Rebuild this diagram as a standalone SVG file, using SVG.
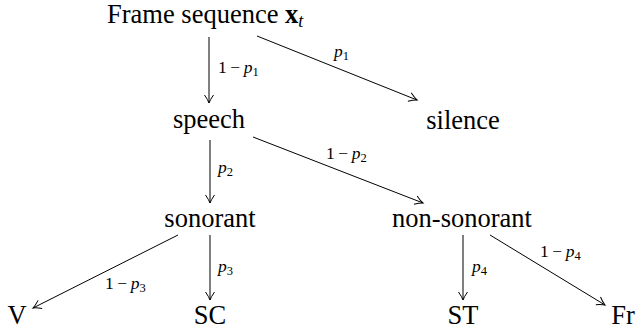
<svg xmlns="http://www.w3.org/2000/svg" width="637" height="332" viewBox="0 0 637 332">
<defs>
<marker id="arr" viewBox="-10 -6 12 12" refX="0" refY="0" markerWidth="12" markerHeight="12" markerUnits="userSpaceOnUse" orient="auto">
<path d="M-8,-4.5 Q-3,-1 0,0 Q-3,1 -8,4.5" fill="none" stroke="#000" stroke-width="1"/>
</marker>
</defs>
<style>
text{font-family:'Liberation Serif','Times New Roman',serif;fill:#000}
.n{font-size:26.5px;text-anchor:middle}
.l{font-size:17.5px}
.i{font-style:italic}
.s{font-size:12.5px}
.e{fill:none;stroke:#000;stroke-width:1;marker-end:url(#arr)}
</style>
<g id="connectors">
<line class="e" x1="209" y1="37" x2="209" y2="103"/>
<line class="e" x1="257" y1="36" x2="417" y2="100"/>
<line class="e" x1="210" y1="140" x2="210" y2="203"/>
<line class="e" x1="253" y1="137" x2="423" y2="203"/>
<line class="e" x1="178" y1="235" x2="33" y2="308"/>
<line class="e" x1="210" y1="235" x2="210" y2="300"/>
<line class="e" x1="463" y1="235" x2="463" y2="300"/>
<line class="e" x1="490" y1="235" x2="605" y2="305"/>
<text class="l" x="218" y="73">1<tspan dx="3.5">−</tspan><tspan class="i" dx="3.5">p</tspan><tspan class="s" dy="3">1</tspan></text>
<text class="l" x="334" y="57"><tspan class="i">p</tspan><tspan class="s" dy="3">1</tspan></text>
<text class="l" x="218" y="173"><tspan class="i">p</tspan><tspan class="s" dy="3">2</tspan></text>
<text class="l" x="326" y="159">1<tspan dx="3.5">−</tspan><tspan class="i" dx="3.5">p</tspan><tspan class="s" dy="3">2</tspan></text>
<text class="l" x="105" y="289">1<tspan dx="3.5">−</tspan><tspan class="i" dx="3.5">p</tspan><tspan class="s" dy="3">3</tspan></text>
<text class="l" x="218" y="272"><tspan class="i">p</tspan><tspan class="s" dy="3">3</tspan></text>
<text class="l" x="472" y="272"><tspan class="i">p</tspan><tspan class="s" dy="3">4</tspan></text>
<text class="l" x="540" y="257">1<tspan dx="3.5">−</tspan><tspan class="i" dx="3.5">p</tspan><tspan class="s" dy="3">4</tspan></text>
</g>
<g id="frame"><text class="n" style="text-anchor:start" x="107" y="23">Frame sequence <tspan font-weight="bold">x</tspan><tspan class="i" font-size="18" dy="4">t</tspan></text></g>
<g id="speech"><text class="n" x="209" y="128">speech</text></g>
<g id="silence"><text class="n" x="463" y="129">silence</text></g>
<g id="sonorant"><text class="n" x="210" y="227">sonorant</text></g>
<g id="nonsonorant"><text class="n" x="462" y="227">non-sonorant</text></g>
<g id="V"><text class="n" x="17" y="324">V</text></g>
<g id="SC"><text class="n" x="210" y="324">SC</text></g>
<g id="ST"><text class="n" x="463" y="324">ST</text></g>
<g id="Fr"><text class="n" x="623" y="324">Fr</text></g>
</svg>
